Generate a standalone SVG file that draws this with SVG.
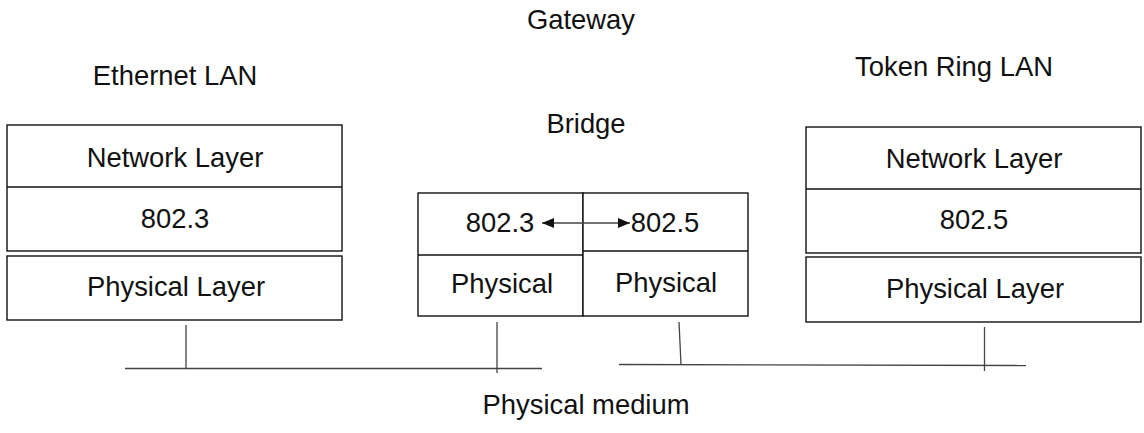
<svg xmlns="http://www.w3.org/2000/svg" width="1144" height="433" viewBox="0 0 1144 433">
  <style>
    text { font-family: "Liberation Sans", Arial, sans-serif; font-size: 27.4px; fill: #111; text-anchor: middle; }
    .box { fill: #fff; stroke: #111; stroke-width: 1.4; }
    .div { stroke: #111; stroke-width: 1.4; fill: none; }
    .wire { stroke: #444; stroke-width: 1.3; fill: none; }
  </style>
  <defs>
    <marker id="head" viewBox="0 0 12 10" refX="12" refY="5" markerWidth="12" markerHeight="10" markerUnits="userSpaceOnUse" orient="auto-start-reverse">
      <path d="M0,0 L12,5 L0,10 Z" fill="#111"/>
    </marker>
  </defs>

  <rect width="1144" height="433" fill="#fff"/>

  <!-- free labels -->
  <text id="gateway" x="581" y="29">Gateway</text>
  <text id="bridge-label" x="586" y="133">Bridge</text>
  <text id="ethernet-label" x="175" y="85">Ethernet LAN</text>
  <text id="tokenring-label" x="954" y="76">Token Ring LAN</text>
  <text id="medium-label" x="586" y="414">Physical medium</text>

  <!-- Ethernet LAN stack -->
  <g id="eth-upper">
    <rect class="box" x="7" y="125" width="335" height="126"/>
    <line class="div" x1="7" y1="187" x2="342" y2="187"/>
    <text x="175" y="167">Network Layer</text>
    <text x="175" y="228">802.3</text>
  </g>
  <g id="eth-physical">
    <rect class="box" x="7" y="256" width="335" height="64"/>
    <text x="176" y="296">Physical Layer</text>
  </g>

  <!-- Bridge -->
  <g id="bridge-left">
    <rect class="box" x="418" y="193" width="165" height="123"/>
    <line class="div" x1="418" y1="255" x2="583" y2="255"/>
    <text x="500" y="232">802.3</text>
    <text x="502" y="293">Physical</text>
  </g>
  <g id="bridge-right">
    <rect class="box" x="583" y="193" width="165" height="123"/>
    <line class="div" x1="583" y1="251" x2="748" y2="251"/>
    <text x="665" y="232">802.5</text>
    <text x="666" y="292">Physical</text>
  </g>

  <!-- Token Ring LAN stack -->
  <g id="tr-upper">
    <rect class="box" x="806" y="127" width="335" height="126"/>
    <line class="div" x1="806" y1="189" x2="1141" y2="189"/>
    <text x="974" y="168">Network Layer</text>
    <text x="974" y="229">802.5</text>
  </g>
  <g id="tr-physical">
    <rect class="box" x="806" y="257" width="335" height="65"/>
    <text x="975" y="298">Physical Layer</text>
  </g>

  <!-- connectors -->
  <g id="connectors">
    <line class="wire" x1="542" y1="223" x2="630" y2="223" marker-start="url(#head)" marker-end="url(#head)"/>
    <line class="wire" x1="125" y1="368.5" x2="542" y2="368.5"/>
    <line class="wire" x1="186" y1="325" x2="186" y2="369"/>
    <line class="wire" x1="497" y1="322" x2="497" y2="373"/>
    <line class="wire" x1="619" y1="364.5" x2="1026" y2="365.5"/>
    <line class="wire" x1="679" y1="322" x2="681" y2="364.5"/>
    <line class="wire" x1="984.5" y1="327" x2="984.5" y2="371"/>
  </g>
</svg>
